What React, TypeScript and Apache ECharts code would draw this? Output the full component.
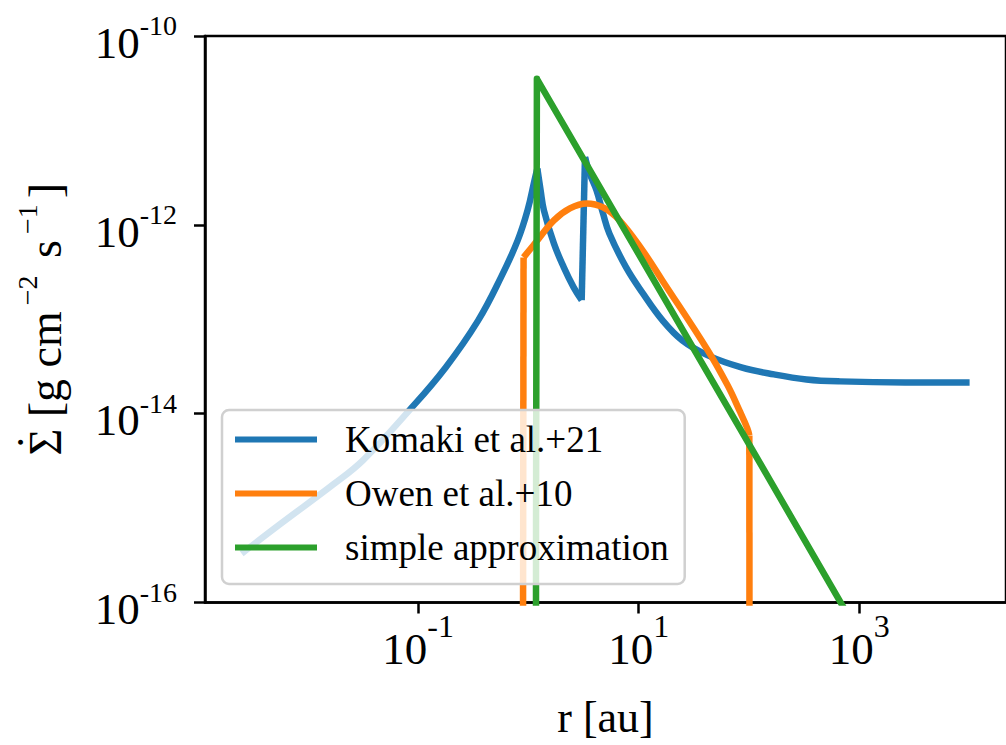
import React, { useEffect, useRef } from "react";
import * as echarts from "echarts";

// log10(r / au) and log10(Sigma_dot / g cm^-2 s^-1)
const seriesNames = ["Komaki et al.+21", "Owen et al.+10", "simple approximation"];
const seriesColors = ["#1f77b4", "#ff7f0e", "#2ca02c"];

const komakiLogR = [
  -2.6, -2.242, -1.769, -1.5, -1.08, -0.75, -0.455, -0.249, -0.097, -0.008, 0.055, 0.081,
  0.111, 0.141, 0.231, 0.32, 0.409, 0.483, 0.513, 0.555, 0.618, 0.677, 0.734, 0.886, 1.038,
  1.216, 1.395, 1.627, 1.931, 2.226, 2.521, 2.825, 3.415, 4.0,
];
const komakiLogRate = [
  -15.482, -15.162, -14.749, -14.494, -13.965, -13.51, -13.012, -12.557, -12.165, -11.848,
  -11.53, -11.403, -11.636, -11.848, -12.197, -12.448, -12.66, -12.797, -11.283, -11.455,
  -11.636, -11.882, -12.091, -12.451, -12.726, -13.012, -13.224, -13.383, -13.51, -13.584,
  -13.637, -13.658, -13.669, -13.669,
];
// index ranges [first, last] of smooth pieces (the kinks sit between them)
const komakiPieces = [[0, 11], [11, 17], [17, 18], [18, 33]];

const owenLogR = [
  -0.053, -0.044, 0.081, 0.231, 0.376, 0.528, 0.677, 0.826, 1.035, 1.214, 1.627,
  1.806, 1.913, 1.985, 2.003, 2.007,
];
const owenLogRate = [
  -20, -12.345, -12.165, -11.953, -11.826, -11.773, -11.816, -11.953, -12.271, -12.589,
  -13.33, -13.7, -13.965, -14.156, -14.23, -20,
];
const owenPieces = [[0, 1], [1, 14], [14, 15]];

const approxLogR = [0.068, 0.077, 4.0];
const approxLogRate = [-20, -10.453, -18.36];
const approxPieces = [[0, 2]];

const xTickExponents = [-1, 1, 3];
const yTickExponents = [-16, -14, -12, -10];

const FONT = "'Liberation Serif', 'Times New Roman', Times, serif";

function pairs(xs: number[], ys: number[]) {
  return xs.map((x, i) => [x, ys[i]]);
}

export default function App() {
  const ref = useRef<HTMLDivElement>(null);

  useEffect(() => {
    const chart = echarts.init(ref.current!, null, { renderer: "svg" });
    const curves = [
      { data: pairs(komakiLogR, komakiLogRate), pieces: komakiPieces },
      { data: pairs(owenLogR, owenLogRate), pieces: owenPieces },
      { data: pairs(approxLogR, approxLogRate), pieces: approxPieces },
    ];
    const series: any[] = [];
    curves.forEach((c, i) => {
      c.pieces.forEach(([a, b]) => {
        series.push({
          name: seriesNames[i],
          type: "line",
          data: c.data.slice(a, b + 1),
          symbol: "none",
          showSymbol: false,
          smooth: b - a > 1 ? 0.4 : false,
          clip: true,
          silent: true,
          itemStyle: { color: seriesColors[i] },
          lineStyle: { color: seriesColors[i], width: 6.5, join: "round", cap: "butt" },
          emphasis: { disabled: true },
        });
      });
    });

    chart.setOption({
      animation: false,
      backgroundColor: "#ffffff",
      grid: {
        left: 203,
        top: 36,
        width: 812.6,
        height: 566.5,
        show: true,
        borderColor: "#000",
        borderWidth: 2.5,
        backgroundColor: "transparent",
      },
      xAxis: {
        type: "value",
        min: -2.932,
        max: 4.33,
        axisLine: { onZero: false, lineStyle: { color: "#000", width: 2.5 } },
        axisTick: {
          customValues: xTickExponents,
          length: 11,
          lineStyle: { color: "#000", width: 2.5 },
        },
        axisLabel: {
          customValues: xTickExponents,
          margin: 16,
          formatter: (v: number) => `{b|10}{s|${v}}`,
          rich: {
            b: { fontFamily: FONT, fontSize: 45, lineHeight: 45, color: "#000", padding: [16.5, 0, 0, 0] },
            s: { fontFamily: FONT, fontSize: 32, lineHeight: 32, color: "#000", padding: [0, 0, 29.5, 0] },
          },
        },
        splitLine: { show: false },
        name: "r [au]",
        nameLocation: "middle",
        nameGap: 93,
        nameTextStyle: { fontFamily: FONT, fontSize: 44, color: "#000" },
      },
      yAxis: {
        type: "value",
        min: yTickExponents[0],
        max: yTickExponents[yTickExponents.length - 1],
        interval: 2,
        axisLine: { show: true, onZero: false, lineStyle: { color: "#000", width: 2.5 } },
        axisTick: { show: true, length: 11, lineStyle: { color: "#000", width: 2.5 } },
        axisLabel: {
          margin: 28,
          formatter: (v: number) => `{b|10}{s|${v}}`,
          rich: {
            b: { fontFamily: FONT, fontSize: 45, lineHeight: 45, color: "#000", padding: [13.4, 0, 0, 0] },
            s: { fontFamily: FONT, fontSize: 28, lineHeight: 28, color: "#000", padding: [4.8, 0, 25.6, 0] },
          },
        },
        splitLine: { show: false },
        name: "{n|\u03A3}{d|\u02D9}{n| [g cm}{p|\u22122}{n| s}{p|\u22121}{n|]}",
        nameLocation: "middle",
        nameRotate: 90,
        nameGap: 144,
        nameTextStyle: {
          rich: {
            n: { fontFamily: FONT, fontSize: 46, lineHeight: 46, color: "#000", padding: [14, 0, 0, 0] },
            d: { fontFamily: FONT, fontSize: 46, lineHeight: 46, color: "#000", padding: [2, 5.9, 12, -21.2] },
            p: { fontFamily: FONT, fontSize: 28, lineHeight: 28, color: "#000", padding: [5.4, 6, 26.6, 6] },
          },
        },
      },
      legend: {
        orient: "vertical",
        left: 222,
        top: 410,
        padding: [11, 16, 18, 13],
        icon: "rect",
        itemWidth: 82,
        itemHeight: 6,
        itemGap: 17,
        backgroundColor: "rgba(255,255,255,0.8)",
        borderColor: "#d0d0d0",
        borderWidth: 2.5,
        borderRadius: 7,
        textStyle: {
          fontFamily: FONT,
          fontSize: 37,
          lineHeight: 37,
          color: "#000",
          padding: [0, 0, 0, 23],
        },
        data: seriesNames,
      },
      series,
    });
    return () => chart.dispose();
  }, []);

  return (
    <div
      ref={ref}
      style={{ position: "absolute", left: 0, top: 0, width: 1006, height: 745, background: "#fff" }}
    />
  );
}
